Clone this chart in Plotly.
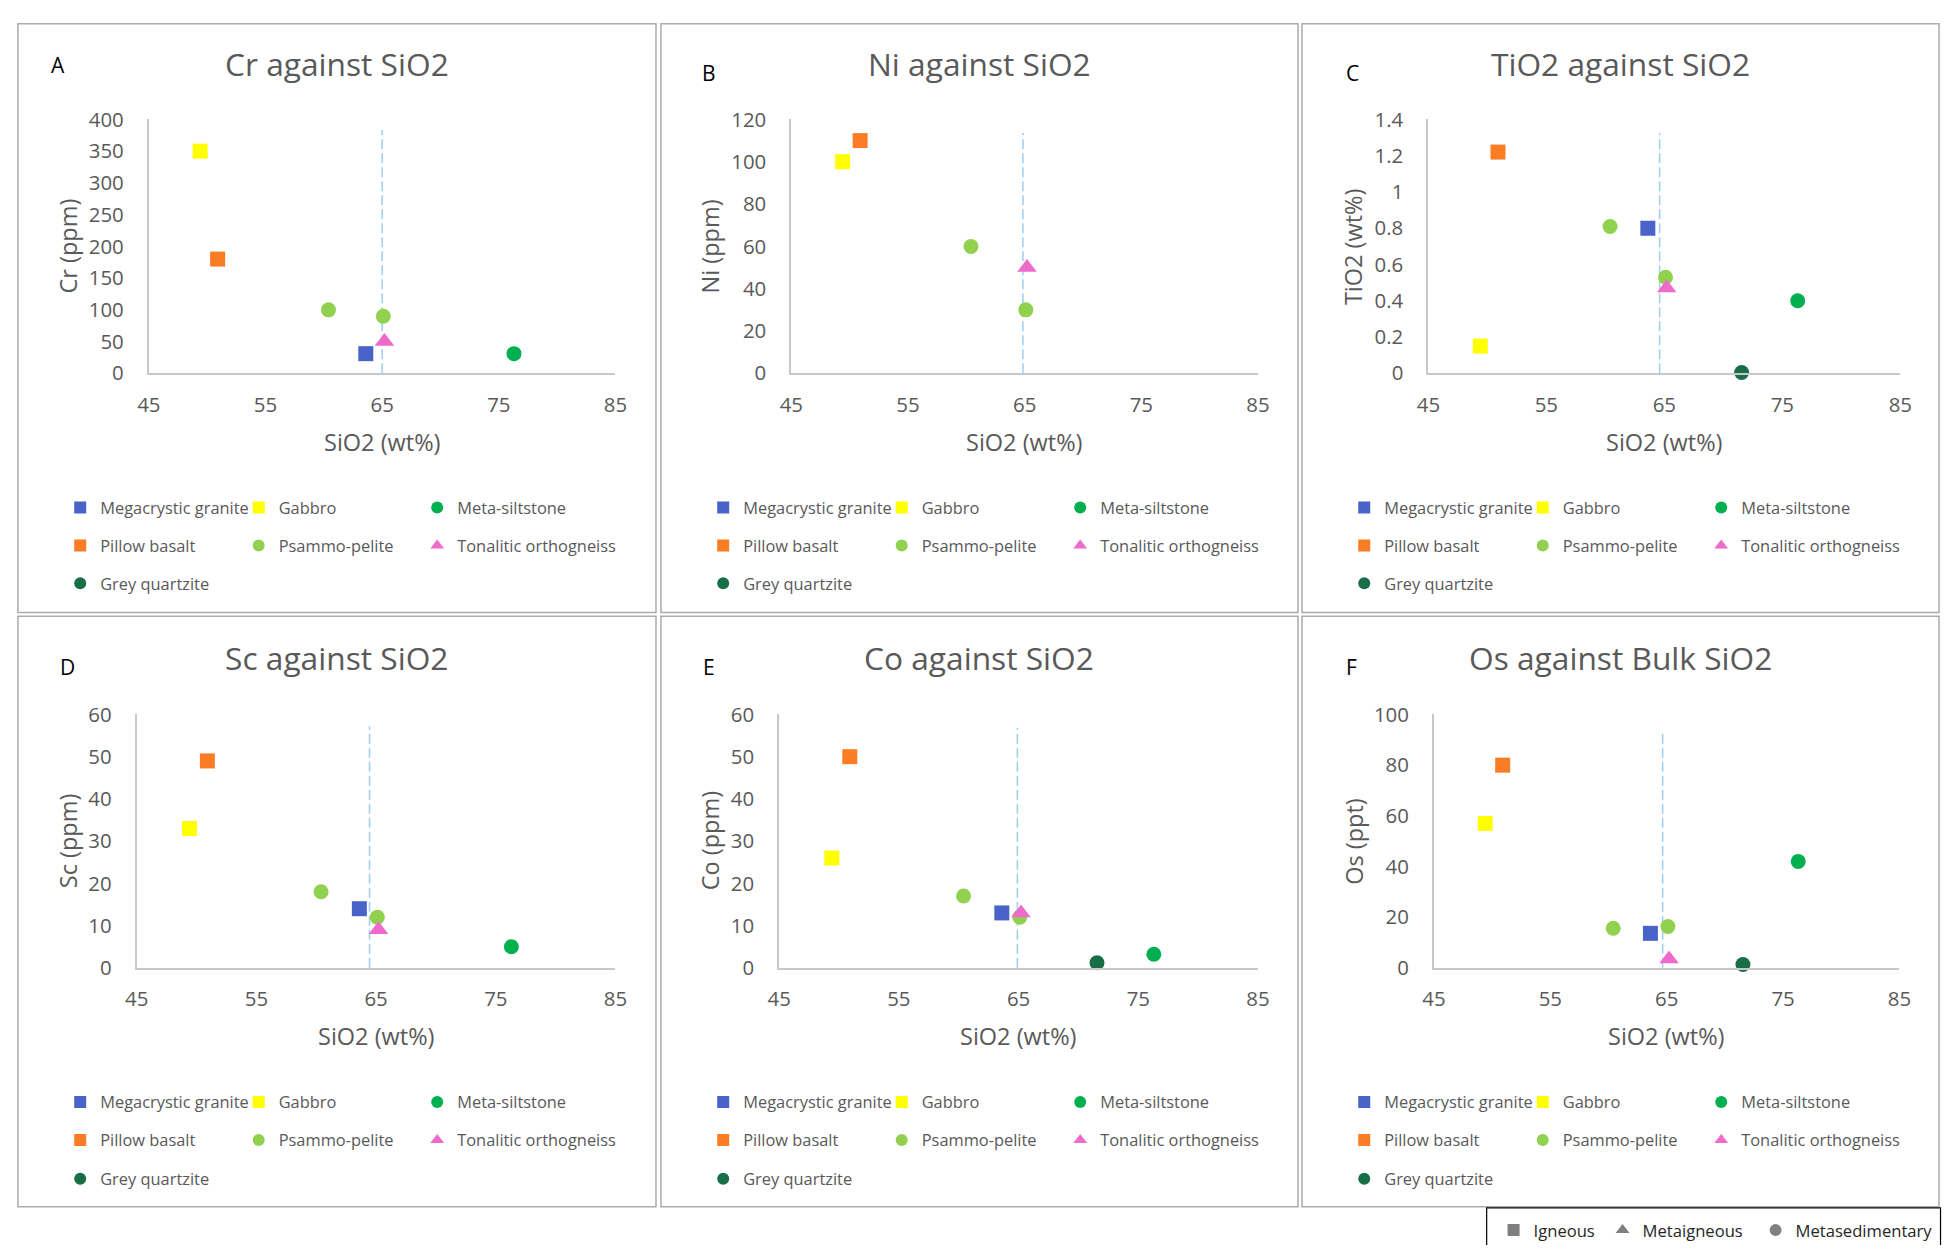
import plotly.graph_objects as go

W, H = 1954, 1258

# ---------------- data ----------------
sample_type = ["Megacrystic granite", "Gabbro", "Meta-siltstone", "Pillow basalt",
               "Psammo-pelite", "Psammo-pelite", "Tonalitic orthogneiss", "Grey quartzite"]
sio2_wt = [63.6, 49.4, 76.3, 50.9, 60.4, 65.1, 65.2, 71.55]
cr_ppm = [31, 350, 31, 180, 100, 90, 50, None]
ni_ppm = [None, 100, None, 110, 60, 30, 50, None]
tio2_wt = [0.80, 0.15, 0.40, 1.22, 0.81, 0.53, 0.47, 0.005]
sc_ppm = [14, 33, 5, 49, 18, 12, 9, None]
co_ppm = [13, 26, 3.2, 50, 17, 12, 13, 1.2]
os_ppt = [13.6, 57, 42, 80, 15.6, 16.3, 3.5, 1.3]

type_names = ["Megacrystic granite", "Gabbro", "Meta-siltstone",
              "Pillow basalt", "Psammo-pelite", "Tonalitic orthogneiss",
              "Grey quartzite"]
type_colors = ["#4A63C9", "#FFFF00", "#00B050", "#FA7D25", "#92D050", "#EE6BCB", "#186E46"]
type_symbols = ["square", "square", "circle", "square", "circle", "triangle-up", "circle"]
type_sizes = [15, 15, 15, 15, 15, 17, 15]

panel_letters = ["A", "B", "C", "D", "E", "F"]
panel_titles = ["Cr against SiO2", "Ni against SiO2", "TiO2 against SiO2",
                "Sc against SiO2", "Co against SiO2", "Os against Bulk SiO2"]
panel_values = [cr_ppm, ni_ppm, tio2_wt, sc_ppm, co_ppm, os_ppt]
y_titles = ["Cr (ppm)", "Ni (ppm)", "TiO2 (wt%)", "Sc (ppm)", "Co (ppm)", "Os (ppt)"]
x_title = "SiO2 (wt%)"
y_max = [400, 120, 1.4, 60, 60, 100]
y_dtick = [50, 20, 0.2, 10, 10, 20]
x_ticks = [45, 55, 65, 75, 85]
boundary_sio2 = [65.0, 64.85, 64.6, 64.45, 64.9, 64.65]
boundary_top = [0.958, 0.947, 0.947, 0.954, 0.948, 0.938]

key_names = ["Igneous", "Metaigneous", "Metasedimentary"]
key_symbols = ["square", "triangle-up", "circle"]

# ---------------- geometry (pixels) ----------------
panel_boxes = [(6, 9, 652, 611), (657, 9, 1302, 611), (1306, 9, 1951, 611),
               (6, 615, 652, 1219), (657, 615, 1302, 1219), (1306, 615, 1951, 1219)]
plot_x = [(138.5, 611), (789, 1261.5), (1434, 1911.8),
          (126.3, 611), (776.7, 1261.5), (1439.7, 1910.9)]
plot_y = [(106.8, 366.5), (715.4, 974.5)]
letter_pos = [(47, 51), (706, 59), (1357, 59), (56, 667), (706, 667), (1356, 667)]
title_y = [49.5, 657.5]
ytitle_x = [56.8, 706.8, 1358.4, 56.8, 706.8, 1358.4]
legend_rows = [(504, 543, 581.5), (1112, 1151, 1190.5)]
legend_col_offsets = [67.8, 245.8, 424.5]   # marker centre relative to panel left
MARKER_OFF = 20  # plotly legend symbol centre offset
key_widths = [64, 108, 150]

FONT = "Open Sans"
GRAY = "#595959"


def fx(p):
    return p / W


def fy(p):
    return 1 - p / H


fig = go.Figure()
layout = dict(width=W, height=H, margin=dict(l=0, r=0, t=0, b=0),
              paper_bgcolor="white", plot_bgcolor="white",
              font=dict(family=FONT, color=GRAY), showlegend=True)
annotations = []
shapes = []

for p in range(6):
    row = p // 3
    ax = "" if p == 0 else str(p + 1)
    xa, ya = "x" + ax, "y" + ax
    vals = panel_values[p]
    for t, name in enumerate(type_names):
        xs = [sio2_wt[i] for i in range(len(sample_type)) if sample_type[i] == name]
        ys = [vals[i] for i in range(len(sample_type)) if sample_type[i] == name]
        leg_idx = p * 3 + (0 if t < 3 else (1 if t < 6 else 2)) + 1
        fig.add_trace(go.Scatter(
            x=xs, y=ys, mode="markers", name=name, xaxis=xa, yaxis=ya,
            marker=dict(symbol=type_symbols[t], color=type_colors[t], size=type_sizes[t],
                        line=dict(width=0)),
            cliponaxis=False, legendwidth=(200 if t in (2, 5) else 133.5),
            legend="legend" if leg_idx == 1 else "legend%d" % leg_idx,
        ))
    x0, x1 = plot_x[p]
    y0, y1 = plot_y[row]
    layout["xaxis" + ax] = dict(
        domain=[fx(x0), fx(x1)], anchor=ya, range=[45, 85], tickvals=x_ticks,
        showgrid=False, zeroline=False, showline=True, linecolor="#C8C8C8", linewidth=2,
        ticks="", tickfont=dict(family=FONT, size=20.4, color=GRAY), ticklabelstandoff=12,
        fixedrange=True)
    layout["yaxis" + ax] = dict(
        domain=[fy(y1), fy(y0)], anchor=xa, range=[0, y_max[p]], dtick=y_dtick[p], tick0=0,
        showgrid=False, zeroline=False, showline=True, linecolor="#C8C8C8", linewidth=2,
        ticks="", tickfont=dict(family=FONT, size=20.4, color=GRAY), ticklabelstandoff=19,
        fixedrange=True)
    # boundary line
    shapes.append(dict(type="line", xref=xa, yref=ya + " domain", x0=boundary_sio2[p],
                       x1=boundary_sio2[p], y0=0, y1=boundary_top[p], layer="below",
                       line=dict(color="#9CCDF2", width=1.5, dash="10px,4px")))
    # panel box
    bx0, by0, bx1, by1 = panel_boxes[p]
    shapes.append(dict(type="rect", xref="paper", yref="paper", x0=fx(bx0), x1=fx(bx1),
                       y0=fy(by1), y1=fy(by0), line=dict(color="#ABABAB", width=1.5)))
    # titles
    annotations.append(dict(text=panel_titles[p], xref="paper", yref="paper",
                            x=fx((bx0 + bx1) / 2), y=fy(title_y[row]),
                            xanchor="center", yanchor="middle", showarrow=False,
                            font=dict(family=FONT, size=31.7, color=GRAY)))
    annotations.append(dict(text=panel_letters[p], xref="paper", yref="paper",
                            x=fx(letter_pos[p][0]), y=fy(letter_pos[p][1]),
                            xanchor="center", yanchor="middle", showarrow=False,
                            font=dict(family=FONT, size=21, color="black")))
    annotations.append(dict(text=x_title, xref="paper", yref="paper",
                            x=fx((x0 + x1) / 2), y=fy(437 if row == 0 else 1044),
                            xanchor="center", yanchor="middle", showarrow=False,
                            font=dict(family=FONT, size=23.5, color=GRAY)))
    annotations.append(dict(text=y_titles[p], xref="paper", yref="paper", textangle=-90,
                            x=fx(ytitle_x[p]), y=fy((y0 + y1) / 2),
                            xanchor="center", yanchor="middle", showarrow=False,
                            font=dict(family=FONT, size=23.5, color=GRAY)))
    # legends (three rows per panel)
    for r in range(3):
        leg_idx = p * 3 + r + 1
        key = "legend" if leg_idx == 1 else "legend%d" % leg_idx
        layout[key] = dict(
            orientation="h", x=fx(bx0 + legend_col_offsets[0] - MARKER_OFF - 5),
            xanchor="left", y=fy(legend_rows[row][r]), yanchor="middle",
            entrywidth=133.5, entrywidthmode="pixels", itemsizing="constant",
            bgcolor="rgba(0,0,0,0)", borderwidth=0, traceorder="normal",
            font=dict(family=FONT, size=16.4, color=GRAY), itemclick=False,
            itemdoubleclick=False)

# key legend (rock class)
for k, name in enumerate(key_names):
    fig.add_trace(go.Scatter(x=[None], y=[None], mode="markers", name=name,
                             xaxis="x6", yaxis="y6", legendwidth=key_widths[k],
                             marker=dict(symbol=key_symbols[k], color="#7F7F7F", size=12,
                                         line=dict(width=0)),
                             legend="legend19"))
layout["legend19"] = dict(orientation="h", x=fx(1524 - MARKER_OFF - 4), xanchor="left",
                          y=fy(1243), yanchor="middle", itemsizing="constant",
                          entrywidthmode="pixels",
                          bgcolor="rgba(0,0,0,0)", borderwidth=0, traceorder="normal",
                          font=dict(family=FONT, size=16.6, color="#262626"),
                          itemclick=False, itemdoubleclick=False)
shapes.append(dict(type="path", xref="paper", yref="paper",
                   path="M %f,%f L %f,%f L %f,%f L %f,%f" % (
                       fx(1493), fy(1258), fx(1493), fy(1220),
                       fx(1952.5), fy(1220), fx(1952.5), fy(1258)),
                   line=dict(color="black", width=1.2)))

layout["annotations"] = annotations
layout["shapes"] = shapes
fig.update_layout(**layout)
fig.write_html(
    "out.html",
    config={"displayModeBar": False},
    post_script="document.body.style.margin='0px';"
                "document.documentElement.style.overflow='hidden';"
                "document.body.style.overflow='hidden';",
)
